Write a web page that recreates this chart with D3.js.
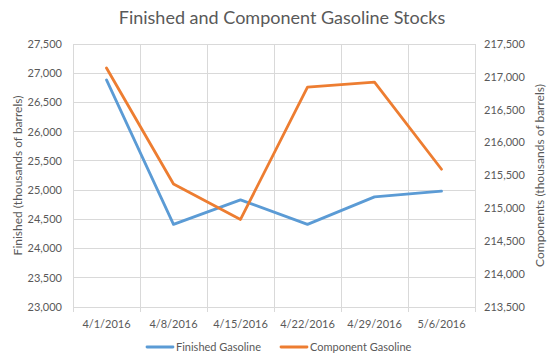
<!DOCTYPE html>
<html>
<head>
<meta charset="utf-8">
<script src="https://cdn.jsdelivr.net/npm/d3@7"></script>
<style>
  body { margin: 0; background: #fff; }
  text { font-family: Lato, "Open Sans", sans-serif; fill: #595959; }
</style>
</head>
<body>
<div id="chart"></div>
<script>
const width = 560,
  height = 361,
  margin = { top: 44, bottom: 54, left: 73, right: 85 };

// data
const dates = ["4/1/2016", "4/8/2016", "4/15/2016", "4/22/2016", "4/29/2016", "5/6/2016"];
const finished = [26885, 24414, 24834, 24414, 24885, 24983];
const component = [217134, 215370, 214832, 216845, 216921, 215595];
const leftTicks = d3.range(23000, 27501, 500);
const rightTicks = d3.range(213500, 217501, 500);
const seriesNames = ["Finished Gasoline", "Component Gasoline"];
const colors = ["#5B9BD5", "#ED7D31"];

const svg = d3.select("#chart")
  .append("svg")
  .attr("width", width)
  .attr("height", height);

const x = d3.scaleBand()
  .domain(dates)
  .range([margin.left, width - margin.right]);

const yL = d3.scaleLinear()
  .domain([23000, 27500])
  .range([height - margin.bottom, margin.top]);

const yR = d3.scaleLinear()
  .domain([213500, 217500])
  .range([height - margin.bottom, margin.top]);

const fmt = d3.format(",");

// horizontal grid (left axis)
svg.append("g")
  .selectAll("line")
  .data(leftTicks)
  .join("line")
  .attr("x1", margin.left)
  .attr("x2", width - margin.right)
  .attr("y1", d => yL(d))
  .attr("y2", d => yL(d))
  .attr("stroke", "#d9d9d9")
  .attr("stroke-width", 1)
  .attr("shape-rendering", "crispEdges");

// vertical grid at band edges
const edges = dates.map(d => x(d)).concat([x(dates[dates.length - 1]) + x.bandwidth()]);
svg.append("g")
  .selectAll("line")
  .data(edges)
  .join("line")
  .attr("x1", d => d)
  .attr("x2", d => d)
  .attr("y1", margin.top)
  .attr("y2", height - margin.bottom + 5)
  .attr("stroke", "#d9d9d9")
  .attr("shape-rendering", "crispEdges");

// left tick labels
svg.append("g")
  .selectAll("text")
  .data(leftTicks)
  .join("text")
  .attr("x", margin.left - 11)
  .attr("y", d => yL(d))
  .attr("dy", "0.35em")
  .attr("text-anchor", "end")
  .style("font-size", "11px")
  .text(d => fmt(d));

// right tick labels
svg.append("g")
  .selectAll("text")
  .data(rightTicks)
  .join("text")
  .attr("x", width - margin.right + 9)
  .attr("y", d => yR(d))
  .attr("dy", "0.35em")
  .attr("text-anchor", "start")
  .style("font-size", "11px")
  .text(d => fmt(d));

// x labels
svg.append("g")
  .selectAll("text")
  .data(dates)
  .join("text")
  .attr("x", d => x(d) + x.bandwidth() / 2)
  .attr("y", height - margin.bottom + 17)
  .attr("dy", "0.35em")
  .attr("text-anchor", "middle")
  .style("font-size", "11px")
  .text(d => d);

// lines
const lineL = d3.line()
  .x((d, i) => x(dates[i]) + x.bandwidth() / 2)
  .y(d => yL(d));
const lineR = d3.line()
  .x((d, i) => x(dates[i]) + x.bandwidth() / 2)
  .y(d => yR(d));

svg.append("path")
  .datum(finished)
  .attr("d", lineL)
  .attr("fill", "none")
  .attr("stroke", colors[0])
  .attr("stroke-width", 2.8)
  .attr("stroke-linejoin", "round")
  .attr("stroke-linecap", "round");

svg.append("path")
  .datum(component)
  .attr("d", lineR)
  .attr("fill", "none")
  .attr("stroke", colors[1])
  .attr("stroke-width", 2.8)
  .attr("stroke-linejoin", "round")
  .attr("stroke-linecap", "round");

// title
svg.append("text")
  .attr("x", 282)
  .attr("y", 18)
  .attr("dy", "0.35em")
  .attr("text-anchor", "middle")
  .style("font-size", "18px")
  .text("Finished and Component Gasoline Stocks");

// axis titles
svg.append("text")
  .attr("transform", `translate(18,${(margin.top + height - margin.bottom) / 2}) rotate(-90)`)
  .attr("dy", "0.35em")
  .attr("text-anchor", "middle")
  .style("font-size", "12px")
  .text("Finished (thousands of barrels)");

svg.append("text")
  .attr("transform", `translate(540,${(margin.top + height - margin.bottom) / 2}) rotate(-90)`)
  .attr("dy", "0.35em")
  .attr("text-anchor", "middle")
  .style("font-size", "12px")
  .text("Components (thousands of barrels)");

// legend
const legendX = [147, 281];
const legend = svg.append("g")
  .selectAll("g")
  .data(seriesNames)
  .join("g")
  .attr("transform", (d, i) => `translate(${legendX[i]},347)`);

legend.append("line")
  .attr("x1", 0)
  .attr("x2", 26)
  .attr("stroke", (d, i) => colors[i])
  .attr("stroke-width", 2.8)
  .attr("stroke-linecap", "round");

legend.append("text")
  .attr("x", 29)
  .attr("dy", "0.35em")
  .style("font-size", "11px")
  .text(d => d);
</script>
</body>
</html>
